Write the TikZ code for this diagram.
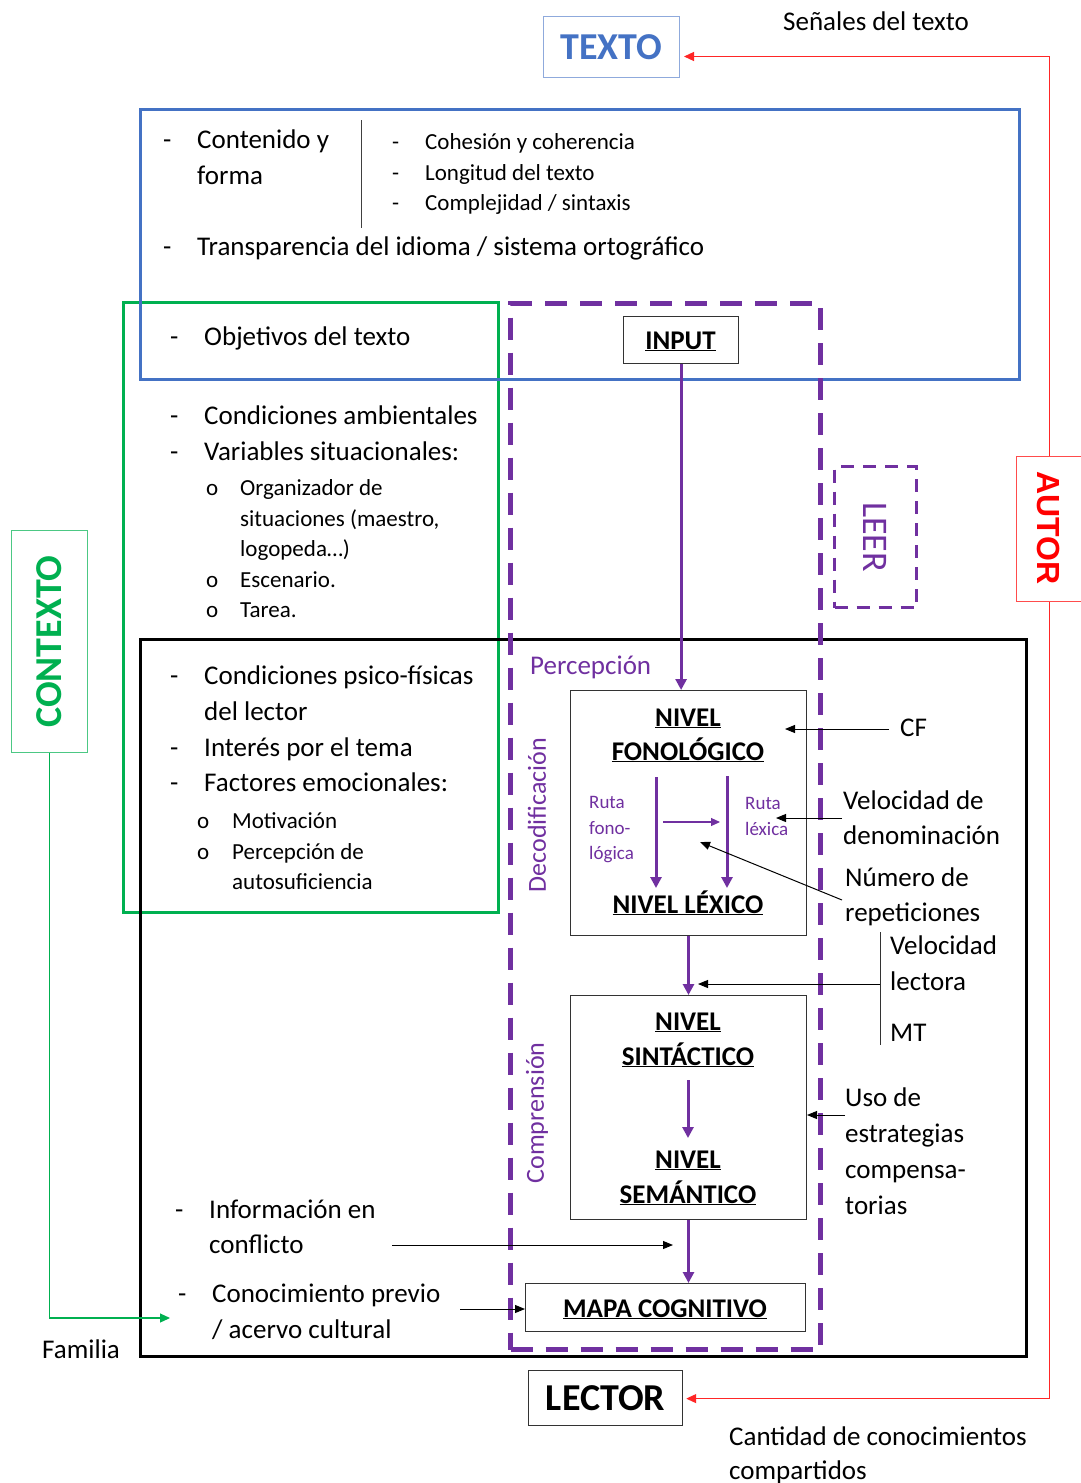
\documentclass[tikz,border=0pt]{standalone}
\usepackage{fontspec}
\setmainfont{Carlito}
\newfontfamily\arialfont{Liberation Sans}
\usetikzlibrary{arrows.meta,calc}
\definecolor{cblue}{HTML}{4472C4}
\definecolor{lblue}{HTML}{8FAADC}
\definecolor{cgreen}{HTML}{00B050}
\definecolor{cpurple}{HTML}{7030A0}
\definecolor{cred}{HTML}{FF0000}
\definecolor{cgray}{HTML}{404040}
\newcommand{\fs}[2]{\fontsize{#1}{#2}\selectfont}
\begin{document}
\begin{tikzpicture}[x=1pt,y=-1pt,
  box/.style={draw, inner sep=0pt, anchor=north west},
  tx/.style={anchor=base west, inner sep=0pt, font=\fs{27}{36}},
  txs/.style={anchor=base west, inner sep=0pt, font=\fs{23}{30.5}},
  txr/.style={anchor=base west, inner sep=0pt, font=\fs{19}{25.5}, text=cpurple},
  lvl/.style={anchor=base, inner sep=0pt, font=\fs{27}{34}\bfseries},
  parr/.style={draw=cpurple, line width=3pt, -{Triangle[length=11pt,width=11pt]}},
  pthin/.style={draw=cpurple, line width=1.2pt, -{Triangle[length=9pt,width=8pt]}},
  barr/.style={draw=black, line width=1pt, -{Triangle[length=10pt,width=8pt]}},
  rarr/.style={draw=cred!85, line width=1.2pt, -{Triangle[length=10pt,width=9pt]}},
  garr/.style={draw=cgreen, line width=1.2pt, -{Triangle[length=10pt,width=9pt]}},
]
\path[use as bounding box, fill=white] (0,0) rectangle (1080,1483);

% ---------- big frames ----------
\node[box, draw=cgreen, line width=3pt, minimum width=375pt, minimum height=610pt] (ctxbox) at (122,301) {};
\node[box, draw=cblue, line width=3pt, minimum width=879pt, minimum height=270pt] (textbox) at (139,108) {};
\node[box, draw=black, line width=3pt, minimum width=886pt, minimum height=717pt] (lectbox) at (139,638) {};
\node[box, draw=cpurple, line width=5pt, dash pattern=on 22pt off 13pt, minimum width=310pt, minimum height=1046pt] (leerbox) at (508,301) {};

% ---------- title boxes ----------
\node[box, draw=lblue, line width=1pt, fill=white, minimum width=136pt, minimum height=61pt, font=\fs{38}{40}\bfseries, text=cblue] (texto) at (543,16) {TEXTO};
\node[box, draw=black!80, line width=1.2pt, fill=white, minimum width=154pt, minimum height=55pt, font=\fs{38}{40}\bfseries] (lector) at (528,1370) {LECTOR};
\node[box, draw=cgreen!70, line width=1pt, fill=white, minimum width=76pt, minimum height=222pt] (contexto) at (11,530) {};
\node[rotate=90, font=\fs{38}{40}\bfseries, text=cgreen] (contextot) at (contexto.center) {CONTEXTO};
\node[box, draw=cred!70, line width=1pt, fill=white, minimum width=66pt, minimum height=145pt] (autor) at (1016,456) {};
\node[rotate=-90, font=\fs{32}{34}\arialfont\bfseries, text=cred] (autort) at (1049,528) {AUTOR};
\node[box, draw=cpurple, line width=3pt, dash pattern=on 13pt off 9pt, minimum width=82pt, minimum height=141pt] (leer) at (833,465) {};
\node[rotate=-90, font=\fs{36}{38}, text=cpurple] (leert) at (leer.center) {LEER};

% ---------- outer connectors ----------
\node[tx] (senales) at (783,30) {Señales del texto};
\draw[rarr] (autor.north) |- ($(texto.east)+(4,9.5)$);
\draw[rarr] (autor.south) |- ($(lector.east)+(3,0.5)$);
\node[tx] (cant1) at (729,1445) {Cantidad de conocimientos};
\node[tx] (cant2) at (729,1479) {compartidos};
\coordinate (famend) at (170,1318);
\draw[garr] (contexto.south) |- (famend);
\node[tx] (familia) at (42,1358) {Familia};

% ---------- TEXTO frame contents ----------
\draw[cgray, line width=1pt] (361,120) -- (361,228);
\node[tx] (d1) at (163,148) {-};
\node[tx] (cont1) at (197,148) {Contenido y};
\node[tx] (cont2) at (197,184) {forma};
\node[txs] (d2) at (392,149) {-};
\node[txs] (d3) at (392,180) {-};
\node[txs] (d4) at (392,210) {-};
\node[txs] (coh1) at (425,149) {Cohesión y coherencia};
\node[txs] (coh2) at (425,180) {Longitud del texto};
\node[txs] (coh3) at (425,210) {Complejidad / sintaxis};
\node[tx] (d5) at (163,255) {-};
\node[tx] (transp) at (197,255) {Transparencia del idioma / sistema ortográfico};

% ---------- CONTEXTO frame contents ----------
\node[tx] (d6) at (170,345) {-};
\node[tx] (objetivos) at (204,345) {Objetivos del texto};
\node[tx] (d7) at (170,424) {-};
\node[tx] (d8) at (170,460) {-};
\node[tx] (condamb) at (204,424) {Condiciones ambientales};
\node[tx] (varsit) at (204,460) {Variables situacionales:};
\node[txs] (b1) at (206,495) {o};
\node[txs] (b2) at (206,587) {o};
\node[txs] (b3) at (206,617) {o};
\node[txs] (org1) at (240,495) {Organizador de};
\node[txs] (org2) at (240,526) {situaciones (maestro,};
\node[txs] (org3) at (240,556) {logopeda…)};
\node[txs] (esc) at (240,587) {Escenario.};
\node[txs] (tarea) at (240,617) {Tarea.};

% ---------- LECTOR frame contents ----------
\node[tx] (d9) at (170,684) {-};
\node[tx] (d10) at (170,756) {-};
\node[tx] (d11) at (170,791) {-};
\node[tx] (psi1) at (204,684) {Condiciones psico-físicas};
\node[tx] (psi2) at (204,720) {del lector};
\node[tx] (interes) at (204,756) {Interés por el tema};
\node[tx] (factores) at (204,791) {Factores emocionales:};
\node[txs] (b4) at (197,828) {o};
\node[txs] (b5) at (197,859) {o};
\node[txs] (motiv) at (232,828) {Motivación};
\node[txs] (perc1) at (232,859) {Percepción de};
\node[txs] (perc2) at (232,889) {autosuficiencia};
\node[tx] (d12) at (175,1218) {-};
\node[tx] (info1) at (209,1218) {Información en};
\node[tx] (info2) at (209,1253) {conflicto};
\node[tx] (d13) at (178,1302) {-};
\node[tx] (con1) at (212,1302) {Conocimiento previo};
\node[tx] (con2) at (212,1338) {/ acervo cultural};

% ---------- reading process ----------
\node[box, draw=black!80, line width=1.2pt, fill=white, minimum width=115pt, minimum height=47pt] (input) at (623,316) {};
\node[lvl] (inputt) at (680.5,349) {\underline{INPUT}};
\node[tx, text=cpurple] (percep) at (530,674) {Percepción};
\node[rotate=90, font=\fs{26}{28}, text=cpurple] (deco) at (537,815) {Decodificación};
\node[rotate=90, font=\fs{26}{28}, text=cpurple] (compr) at (537,1113) {Comprensión};

\node[box, draw=black!80, line width=1pt, minimum width=236pt, minimum height=245pt] (fono) at (570,690) {};
\node[lvl] (fonot1) at (688,726) {\underline{NIVEL}};
\node[lvl] (fonot2) at (688,760) {\underline{FONOLÓGICO}};
\node[lvl] (lext) at (688,913) {\underline{NIVEL LÉXICO}};
\node[txr] (rf1) at (589,808) {Ruta};
\node[txr] (rf2) at (589,834) {fono-};
\node[txr] (rf3) at (589,859) {lógica};
\node[txr] (rl1) at (745,809) {Ruta};
\node[txr] (rl2) at (745,835) {léxica};
\coordinate (fa1) at (656,777); \coordinate (fb1) at (656,888);
\coordinate (fa2) at (727,776); \coordinate (fb2) at (727,888);
\draw[parr] (fa1) -- (fb1);
\draw[parr] (fa2) -- (fb2);
\coordinate (hs) at (663,822); \coordinate (he) at (720,822);
\draw[pthin] (hs) -- (he);

\node[box, draw=black!80, line width=1pt, minimum width=236pt, minimum height=224pt] (sint) at (570,995) {};
\node[lvl] (sintt1) at (688,1030) {\underline{NIVEL}};
\node[lvl] (sintt2) at (688,1065) {\underline{SINTÁCTICO}};
\node[lvl] (semt1) at (688,1168) {\underline{NIVEL}};
\node[lvl] (semt2) at (688,1203) {\underline{SEMÁNTICO}};
\coordinate (sa) at (688,1080); \coordinate (sb) at (688,1138);
\draw[parr] (sa) -- (sb);

\node[box, draw=black!80, line width=1pt, fill=white, minimum width=280pt, minimum height=48pt] (mapa) at (525,1283) {};
\node[lvl] (mapat) at (665,1317) {\underline{MAPA COGNITIVO}};

\draw[parr] (input.south) -- (input.south |- fono.north);
\draw[parr] (fono.south) -- (sint.north);
\draw[parr] (sint.south) -- (sint.south |- mapa.north);

% ---------- influencing factors ----------
\node[tx] (cf) at (900,736) {CF};
\coordinate (cfS) at (889,729); \coordinate (cfT) at (785,729);
\draw[barr] (cfS) -- (cfT);
\node[tx] (vd1) at (843,809) {Velocidad de};
\node[tx] (vd2) at (843,844) {denominación};
\coordinate (vdS) at (842,818); \coordinate (vdT) at (776,818);
\draw[barr] (vdS) -- (vdT);
\node[tx] (nr1) at (845,886) {Número de};
\node[tx] (nr2) at (845,921) {repeticiones};
\coordinate (nrS) at (842,900); \coordinate (nrT) at (700,842);
\draw[barr] (nrS) -- (nrT);
\node[tx] (vl1) at (890,954) {Velocidad};
\node[tx] (vl2) at (890,990) {lectora};
\node[tx] (mt) at (890,1041) {MT};
\coordinate (brT) at (880,932); \coordinate (brB) at (880,1045); \coordinate (brM) at (880,984);
\draw[black!80, line width=1pt] (brT) -- (brB);
\coordinate (vlT) at (698,984);
\draw[barr] (brM) -- (vlT);
\node[tx] (uso1) at (845,1106) {Uso de};
\node[tx] (uso2) at (845,1142) {estrategias};
\node[tx] (uso3) at (845,1178) {compensa-};
\node[tx] (uso4) at (845,1214) {torias};
\coordinate (usoS) at (845,1115);
\draw[barr] (usoS) -- (usoS -| sint.east);
\coordinate (infS) at (392,1245); \coordinate (infT) at (673,1245);
\draw[barr] (infS) -- (infT);
\coordinate (conS) at (460,1309);
\draw[barr] (conS) -- (conS -| mapa.west);
\end{tikzpicture}
\end{document}
